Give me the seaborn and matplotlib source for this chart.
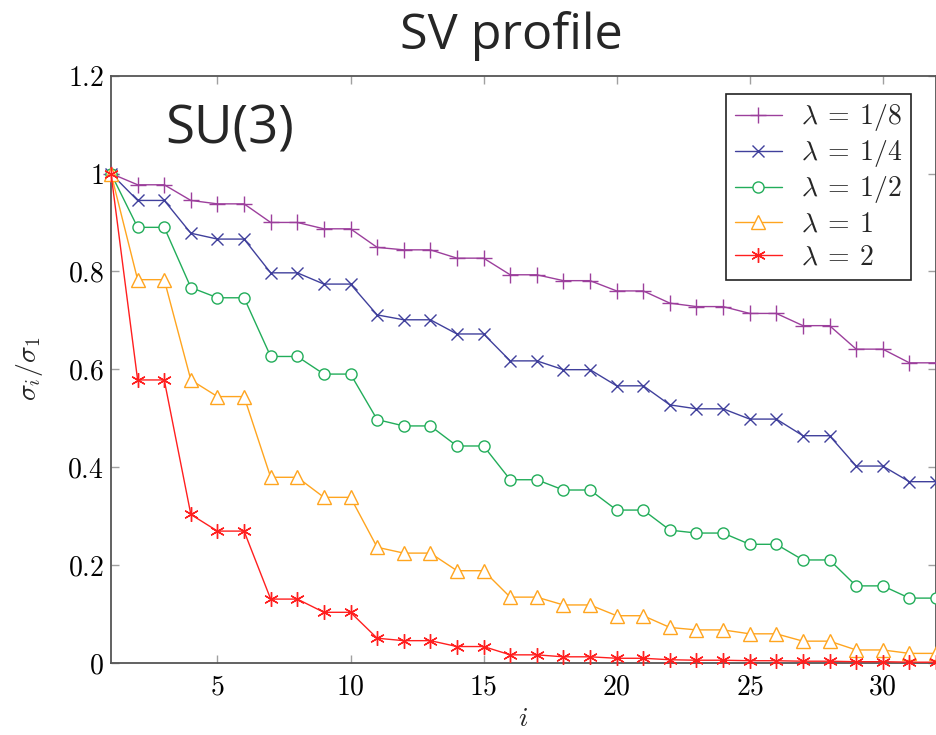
import numpy as np
import pandas as pd
import matplotlib
matplotlib.use("Agg")
import matplotlib.pyplot as plt
from matplotlib.ticker import FixedLocator, FuncFormatter
import seaborn as sns

# Singular-value index
index = list(range(1, 33))

# Normalised singular values sigma_i / sigma_1 for each coupling
sv_lam_1_8 = [1.000, 0.977, 0.977, 0.945, 0.938, 0.938, 0.900, 0.900, 0.887, 0.887,
              0.849, 0.844, 0.844, 0.827, 0.827, 0.793, 0.793, 0.781, 0.781, 0.760,
              0.760, 0.735, 0.728, 0.728, 0.714, 0.714, 0.689, 0.689, 0.641, 0.641,
              0.613, 0.613]
sv_lam_1_4 = [1.000, 0.945, 0.945, 0.878, 0.866, 0.866, 0.797, 0.797, 0.774, 0.774,
              0.711, 0.701, 0.701, 0.672, 0.672, 0.617, 0.617, 0.599, 0.599, 0.566,
              0.566, 0.527, 0.519, 0.519, 0.498, 0.498, 0.464, 0.464, 0.402, 0.402,
              0.370, 0.370]
sv_lam_1_2 = [1.000, 0.890, 0.890, 0.767, 0.746, 0.746, 0.626, 0.626, 0.590, 0.590,
              0.497, 0.484, 0.484, 0.443, 0.443, 0.374, 0.374, 0.353, 0.353, 0.312,
              0.312, 0.271, 0.265, 0.265, 0.242, 0.242, 0.210, 0.210, 0.157, 0.157,
              0.132, 0.132]
sv_lam_1 = [1.000, 0.783, 0.783, 0.578, 0.544, 0.544, 0.379, 0.379, 0.338, 0.338,
            0.236, 0.224, 0.224, 0.188, 0.188, 0.134, 0.134, 0.118, 0.118, 0.096,
            0.096, 0.072, 0.067, 0.067, 0.059, 0.059, 0.044, 0.044, 0.026, 0.026,
            0.019, 0.019]
sv_lam_2 = [1.000, 0.578, 0.578, 0.303, 0.269, 0.269, 0.130, 0.130, 0.103, 0.103,
            0.050, 0.045, 0.045, 0.033, 0.033, 0.016, 0.016, 0.012, 0.012, 0.009,
            0.009, 0.006, 0.005, 0.005, 0.004, 0.004, 0.003, 0.003, 0.002, 0.002,
            0.001, 0.001]

series_labels = [r"$\lambda\:=\:1/8$", r"$\lambda\:=\:1/4$", r"$\lambda\:=\:1/2$",
                 r"$\lambda\:=\:1$", r"$\lambda\:=\:2$"]
series_values = [sv_lam_1_8, sv_lam_1_4, sv_lam_1_2, sv_lam_1, sv_lam_2]

x_ticks = [5, 10, 15, 20, 25, 30]
y_ticks = [0, 0.2, 0.4, 0.6, 0.8, 1.0, 1.2]

# Styling per series: colour, marker, marker size
colors = ["#9c3f9c", "#40409c", "#22ad5a", "#ffa51f", "#ff1f1f"]
markers = ["+", "x", "o", "^", (6, 2, 0)]
msizes = [11, 9, 8, 9.5, 10.5]

sns.set_theme(style="white")
plt.rcParams["mathtext.fontset"] = "cm"
plt.rcParams["font.family"] = ["Open Sans", "DejaVu Sans"]

fig = plt.figure(figsize=(9.36, 7.35), dpi=100)
ax = fig.add_axes([0.1186, 0.0984, 1.0 - 0.1186, 0.897 - 0.0984])

for lab, vals, c, m, ms in zip(series_labels, series_values, colors, markers, msizes):
    df = pd.DataFrame({"i": index, "ratio": vals})
    sns.lineplot(data=df, x="i", y="ratio", ax=ax, color=c, marker=m,
                 markersize=ms, mec=c, mfc="white", mew=1.0, lw=1.0,
                 label=lab, clip_on=False, zorder=3)

ax.set_xlim(1, 32)
ax.set_ylim(0, 1.2)
ax.xaxis.set_major_locator(FixedLocator(x_ticks))
ax.yaxis.set_major_locator(FixedLocator(y_ticks))
ax.xaxis.set_major_formatter(FuncFormatter(lambda v, p: f"${v:g}$"))
ax.yaxis.set_major_formatter(FuncFormatter(lambda v, p: f"${v:g}$"))
ax.tick_params(axis="both", which="major", direction="in", length=6, width=1.0,
               color="#a0a0a0", labelsize=20, labelcolor="black",
               top=True, right=True, bottom=True, left=True)
ax.tick_params(axis="y", pad=5)
ax.tick_params(axis="x", pad=8)

for s in ax.spines.values():
    s.set_color("#555555")
    s.set_linewidth(1.3)

ax.set_xlabel(r"$i$", fontsize=20)
ax.set_ylabel(r"$\sigma_i/\sigma_1$", fontsize=20)
ax.xaxis.set_label_coords(0.5, -0.072)
ax.yaxis.set_label_coords(-0.08, 0.5)

leg = ax.legend(loc="upper right", bbox_to_anchor=(0.9697, 0.9688),
                borderaxespad=0, fontsize=20, frameon=True, fancybox=False,
                framealpha=1, edgecolor="#222222", handlelength=1.7,
                handletextpad=0.7, labelspacing=0.18, borderpad=0.3,
                numpoints=1)
leg.get_frame().set_linewidth(1.2)

ax.text(3.02, 1.062, "SU(3)", fontsize=38, ha="left", va="baseline",
        family=["Open Sans", "DejaVu Sans"])
fig.text(0.5465, 1 - 49 / 735, "SV profile", fontsize=36.3, ha="center",
         va="baseline", family=["Open Sans", "DejaVu Sans"])

fig.savefig("out.png", dpi=100)
